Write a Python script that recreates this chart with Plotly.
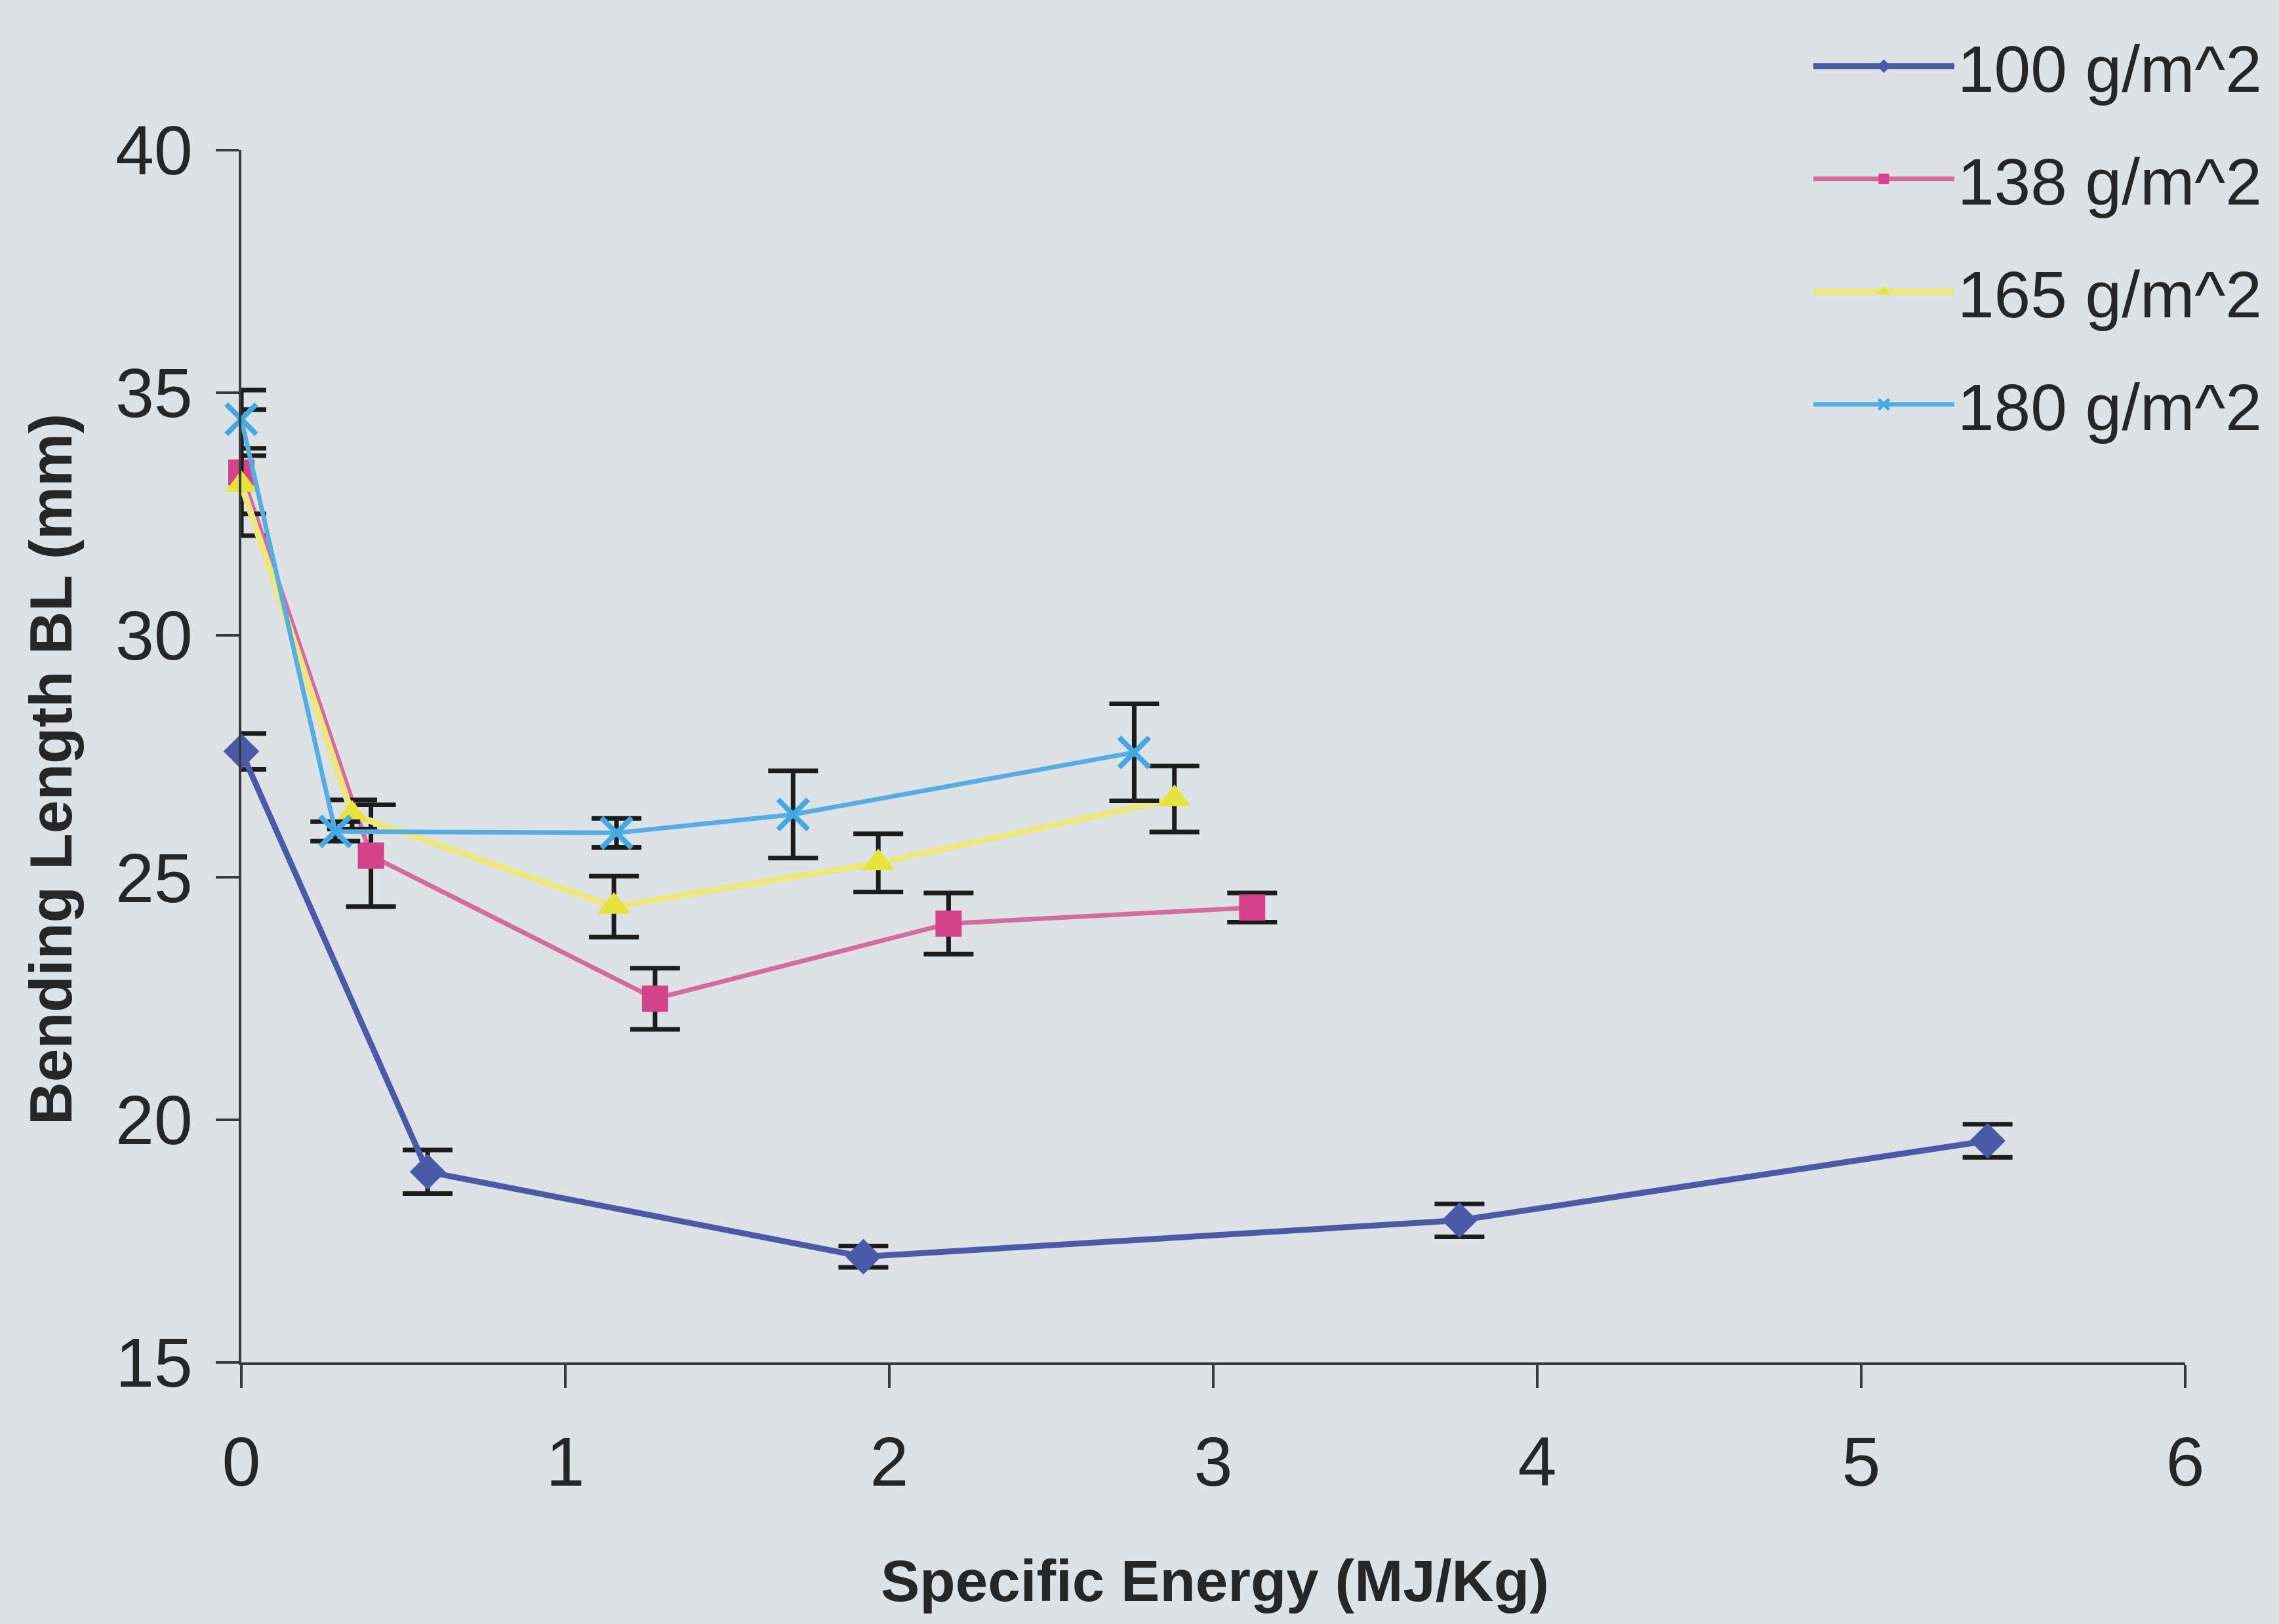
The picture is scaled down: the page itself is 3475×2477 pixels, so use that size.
import plotly.graph_objects as go

# Bending length vs. specific energy for four fabric weights
series_names = ["100 g/m^2", "138 g/m^2", "165 g/m^2", "180 g/m^2"]

energy_100 = [0.0, 0.575, 1.92, 3.76, 5.39]
bl_100 = [27.6, 18.93, 17.18, 17.93, 19.57]
err_100 = [0.37, 0.45, 0.22, 0.34, 0.34]

energy_138 = [0.0, 0.40, 1.277, 2.183, 3.12]
bl_138 = [33.35, 25.45, 22.5, 24.05, 24.38]
err_138 = [1.3, 1.05, 0.63, 0.63, 0.3]

energy_165 = [0.0, 0.342, 1.15, 1.966, 2.88]
bl_165 = [33.1, 26.3, 24.4, 25.3, 26.62]
err_165 = [0.6, 0.3, 0.63, 0.6, 0.68]

energy_180 = [0.0, 0.29, 1.158, 1.703, 2.756]
bl_180 = [34.45, 25.95, 25.92, 26.3, 27.58]
err_180 = [0.6, 0.2, 0.3, 0.9, 1.0]

x_ticks = [0, 1, 2, 3, 4, 5, 6]
y_ticks = [15, 20, 25, 30, 35, 40]

BG = "#dde2e6"
INK = "#262626"
FONT = "Liberation Sans, Arial, sans-serif"

styles = [
    dict(line="#4a5aa6", lw=9, marker="#4a5aa8", symbol="diamond", size=42, mline=0),
    dict(line="#d66a9f", lw=7, marker="#d5428c", symbol="square", size=40, mline=0),
    dict(line="#ebe882", lw=10, marker="#e6e33c", symbol="triangle-up", size=44, mline=0),
    dict(line="#56addf", lw=7, marker="#43a9e3", symbol="x-thin-open", size=46, mline=8),
]

data = [
    (energy_100, bl_100, err_100),
    (energy_138, bl_138, err_138),
    (energy_165, bl_165, err_165),
    (energy_180, bl_180, err_180),
]

fig = go.Figure()
for name, (xs, ys, es), st in zip(series_names, data, styles):
    marker = dict(symbol=st["symbol"], size=st["size"], color=st["marker"])
    if st["mline"]:
        marker["line"] = dict(color=st["marker"], width=st["mline"])
    else:
        marker["line"] = dict(width=0)
    fig.add_trace(go.Scatter(
        x=xs, y=ys, name=name, legendgroup=name,
        mode="lines+markers", cliponaxis=False,
        line=dict(color=st["line"], width=st["lw"]),
        marker=marker,
        error_y=dict(type="data", array=es, visible=True,
                     color="#1c1c1c", thickness=7, width=38),
    ))

axis_common = dict(
    showgrid=False, zeroline=False, showline=True,
    linecolor="#3a3a3a", linewidth=4,
    ticks="outside", ticklen=35, tickwidth=4, tickcolor="#3a3a3a",
    tickfont=dict(family=FONT, size=106, color=INK),
)

fig.update_layout(
    width=3475, height=2477,
    margin=dict(l=368, r=143, t=229, b=399),
    paper_bgcolor=BG, plot_bgcolor=BG,
    showlegend=True,
    legend=dict(
        x=0.807, y=1.108, xanchor="left", yanchor="top",
        bgcolor="rgba(0,0,0,0)",
        font=dict(family=FONT, size=100, color=INK),
        itemwidth=215, tracegroupgap=39,
        itemsizing="trace",
    ),
    xaxis=dict(range=[0, 6], tickvals=x_ticks, ticklabelstandoff=22, **axis_common),
    yaxis=dict(range=[15, 40], tickvals=y_ticks, ticklabelstandoff=14, **axis_common),
    annotations=[
        dict(text="Specific Energy (MJ/Kg)", xref="paper", yref="paper",
             x=0.501, y=-0.180, xanchor="center", yanchor="middle", showarrow=False,
             font=dict(family=FONT, size=89, color=INK, weight="bold")),
        dict(text="Bending Length BL (mm)", xref="paper", yref="paper",
             x=-0.0978, y=0.489, xanchor="center", yanchor="middle", showarrow=False,
             textangle=-90,
             font=dict(family=FONT, size=91, color=INK, weight="bold")),
    ],
)

fig.write_html("out.html")
